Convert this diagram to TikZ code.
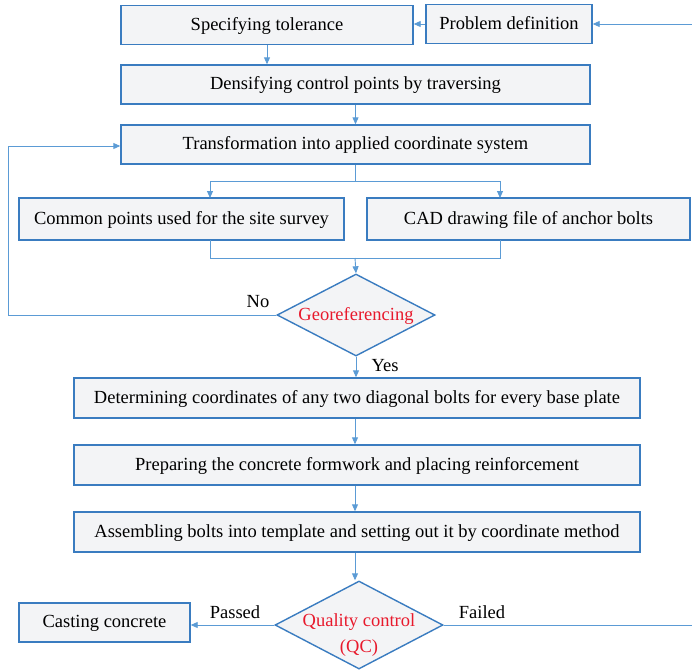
\documentclass[tikz,border=0pt]{standalone}
\usepackage{fontspec}
\setmainfont{Liberation Serif}
\usetikzlibrary{shapes.geometric,arrows.meta,calc}
\definecolor{boxline}{HTML}{3A7CC0}
\definecolor{conn}{HTML}{5B9BD5}
\definecolor{boxfill}{HTML}{F3F4F6}
\definecolor{qred}{HTML}{E8192C}
\begin{document}
\begin{tikzpicture}[x=1pt,y=-1pt,
  every node/.style={font=\fontsize{18.5}{22}\selectfont},
  stepbox/.style={draw=boxline,line width=1.4pt,fill=boxfill,minimum height=39pt,inner sep=0pt,anchor=center,text height=13pt,text depth=3pt},
  decide/.style={diamond,draw=boxline,line width=1.4pt,fill=boxfill,inner sep=0pt},
  dtext/.style={text=qred,align=center,inner sep=0pt},
  link/.style={draw=conn,line width=0.9pt},
  arr/.style={link,-{Triangle[length=7pt,width=6pt]}},
  lab/.style={inner sep=0pt}
]
\useasboundingbox (0,0) rectangle (692,670);
% boxes
\node[stepbox,minimum width=292pt] (spec) at (267,25) {Specifying tolerance};
\node[stepbox,minimum width=166pt] (prob) at (509,24) {Problem definition};
\node[stepbox,minimum width=469pt] (dens) at (355.5,84.5) {Densifying control points by traversing};
\node[stepbox,minimum width=469pt] (trans) at (355.5,144.5) {Transformation into applied coordinate system};
\node[stepbox,minimum width=325pt,minimum height=42pt] (common) at (181.5,219) {Common points used for the site survey};
\node[stepbox,minimum width=323pt,minimum height=42pt] (cad) at (528.5,219) {CAD drawing file of anchor bolts};
\node[decide,minimum width=158pt,minimum height=82pt] (geo) at (356,315) {};
\node[dtext] (geot) at (356,316) {Georeferencing};
\node[stepbox,minimum width=566pt,minimum height=40pt] (det) at (357,398) {Determining coordinates of any two diagonal bolts for every base plate};
\node[stepbox,minimum width=566pt,minimum height=40pt] (prep) at (357,465) {Preparing the concrete formwork and placing reinforcement};
\node[stepbox,minimum width=566pt,minimum height=40pt] (asm) at (357,532) {Assembling bolts into template and setting out it by coordinate method};
\node[decide,minimum width=168pt,minimum height=88pt] (qc) at (359,625) {};
\node[dtext] (qct) at (359,635) {Quality control\\[4pt](QC)};
\node[stepbox,minimum width=171pt] (cast) at (104.5,622.5) {Casting concrete};
% free ends and bends
\coordinate (inR) at (692,24);
\coordinate (split) at (355,181);
\coordinate (merge) at (355,258);
\coordinate (noL) at (8,315);
\coordinate (noT) at (8,146);
\coordinate (failR) at (692,625);
% connectors
\draw[arr] (inR) -- (prob.east);
\draw[arr] (prob.west) -- (spec.east |- prob.west);
\draw[arr] (spec.south) -- (spec.south |- dens.north);
\draw[arr] (dens.south) -- (trans.north);
\draw[link] (trans.south -| split) -- (split);
\draw[link] (210,181) -- (500,181);
\draw[arr] (210,181) -- (210,198);
\draw[arr] (500,181) -- (500,198);
\draw[link] (210,240) -- (210,258) -- (500,258) -- (500,240);
\draw[arr] (merge) -- (geo.north);
\draw[link] (geo.west) -- (noL) -- (noT);
\draw[arr] (noT) -- (trans.west |- noT);
\draw[arr] (geo.south) -- (det.north -| geo.south);
\draw[arr] (det.south -| 355,0) -- (prep.north -| 355,0);
\draw[arr] (prep.south -| 355,0) -- (asm.north -| 355,0);
\draw[arr] (asm.south -| 355,0) -- (qc.north -| 355,0);
\draw[arr] (qc.west) -- (cast.east |- qc.west);
\draw[link] (qc.east) -- (failR);
% labels
\node[lab] (lno) at (258,302) {No};
\node[lab] (lyes) at (385,366) {Yes};
\node[lab] (lpass) at (235,612) {Passed};
\node[lab] (lfail) at (482,612) {Failed};
\end{tikzpicture}
\end{document}
